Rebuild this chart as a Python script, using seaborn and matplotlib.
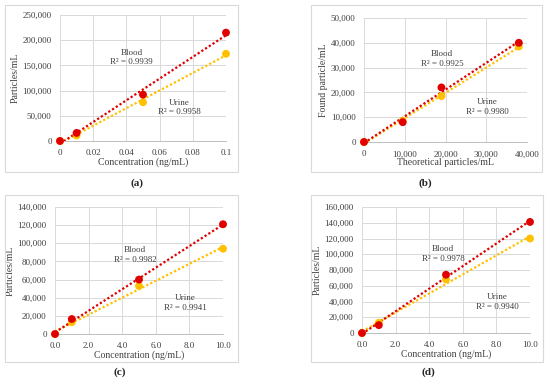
import numpy as np
import matplotlib
matplotlib.use("Agg")
import matplotlib.pyplot as plt
import matplotlib.patches as patches
from matplotlib.ticker import FuncFormatter
import seaborn as sns

sns.set_style("white")
plt.rcParams['font.family'] = ['Liberation Serif', 'DejaVu Serif']

RED = "#E00000"
GOLD = "#FFC000"

# panel (a)
x_a = [0, 0.01, 0.05, 0.1]
blood_a = [0, 16000, 92000, 215000]
urine_a = [0, 11000, 77000, 173000]
# panel (b)
x_b = [0, 9500, 19000, 38000]
blood_b = [0, 8000, 22000, 40000]
urine_b = [0, 8500, 18500, 38500]
# panel (c)
x_c = [0, 1, 5, 10]
blood_c = [0, 16500, 60000, 121000]
urine_c = [0, 13000, 53000, 94000]
# panel (d)
x_d = [0, 1, 5, 10]
blood_d = [0, 10000, 74000, 141000]
urine_d = [0, 13000, 68000, 120000]

r2 = {"a": ("0.9939", "0.9958"), "b": ("0.9925", "0.9980"),
      "c": ("0.9982", "0.9941"), "d": ("0.9978", "0.9940")}

W, H = 550, 385
fig = plt.figure(figsize=(5.5, 3.85), dpi=100)


def px_rect(l, t, r, b):
    return [l / W, (H - b) / H, (r - l) / W, (b - t) / H]


panels = [
    dict(key="a", x=x_a, blood=blood_a, urine=urine_a, ax=px_rect(60, 15, 226, 141),
         box=(5, 5, 238, 172), cap=(137, 183), xlim=(0, 0.1), xstep=0.02, ymax=250000, ystep=50000,
         xfmt=lambda v, p: f"{v:g}", xlabel="Concentration (ng/mL)", ylabel="Particles/mL",
         tb=(0.043, 165000), tu=(0.072, 66000)),
    dict(key="b", x=x_b, blood=blood_b, urine=urine_b, ax=px_rect(364, 18, 527, 142),
         box=(311, 5, 542, 172), cap=(425, 183), xlim=(0, 40000), xstep=10000, ymax=50000, ystep=10000,
         xfmt=lambda v, p: f"{v:,.0f}", xlabel="Theoretical particles/mL", ylabel="Found particle/mL",
         tb=(19100, 33500), tu=(30200, 14100)),
    dict(key="c", x=x_c, blood=blood_c, urine=urine_c, ax=px_rect(55, 207, 223, 334),
         box=(5, 195, 238, 362), cap=(120, 372), xlim=(0, 10), xstep=2, ymax=140000, ystep=20000,
         xfmt=lambda v, p: f"{v:.1f}", xlabel="Concentration (ng/mL)", ylabel="Particles/mL",
         tb=(4.76, 87100), tu=(7.74, 34200)),
    dict(key="d", x=x_d, blood=blood_d, urine=urine_d, ax=px_rect(362, 207, 530, 333),
         box=(311, 195, 543, 362), cap=(428, 372), xlim=(0, 10), xstep=2, ymax=160000, ystep=20000,
         xfmt=lambda v, p: f"{v:.1f}", xlabel="Concentration (ng/mL)", ylabel="Particles/mL",
         tb=(4.82, 100300), tu=(8.04, 39400)),
]

for p in panels:
    l, t, r, b = p["box"]
    fig.patches.append(patches.Rectangle((l / W, (H - b) / H), (r - l) / W, (b - t) / H,
                                         transform=fig.transFigure, fill=False,
                                         edgecolor="#d9d9d9", lw=0.8))
    fig.text(p["cap"][0] / W, 1 - p["cap"][1] / H, f"({p['key']})", ha="center", va="center",
             fontsize=8, fontweight="bold")

    ax = fig.add_axes(p["ax"])
    x = np.array(p["x"], dtype=float)
    for ys, col in [(p["urine"], GOLD), (p["blood"], RED)]:
        sns.regplot(x=x, y=np.array(ys, dtype=float), ax=ax, scatter=False, ci=None,
                    line_kws=dict(color=col, lw=1.6, linestyle=(0, (1, 1))))
    for ys, col in [(p["urine"], GOLD), (p["blood"], RED)]:
        sns.scatterplot(x=x, y=ys, ax=ax, color=col, s=32, edgecolor="none", zorder=5, clip_on=False)

    ax.set_xlim(*p["xlim"])
    ax.set_ylim(0, p["ymax"])
    ax.set_xticks(np.arange(0, p["xlim"][1] + p["xstep"] / 2, p["xstep"]))
    ax.set_yticks(np.arange(0, p["ymax"] + 1, p["ystep"]))
    ax.xaxis.set_major_formatter(FuncFormatter(p["xfmt"]))
    ax.yaxis.set_major_formatter(FuncFormatter(lambda v, pos: f"{v:,.0f}"))
    ax.tick_params(labelsize=6.5, length=0, colors="#404040")
    ax.tick_params(axis="x", pad=6)
    ax.tick_params(axis="y", pad=6)
    ax.grid(True, color="#d9d9d9", lw=0.7)
    ax.set_axisbelow(True)
    for s in ["top", "right", "left"]:
        ax.spines[s].set_visible(False)
    ax.spines["bottom"].set_color("#bfbfbf")
    ax.spines["bottom"].set_linewidth(0.7)
    ax.set_xlabel(p["xlabel"], fontsize=7, labelpad=0, color="#404040")
    ax.set_ylabel(p["ylabel"], fontsize=7, labelpad=2, color="#404040")

    rb, ru = r2[p["key"]]
    ax.text(*p["tb"], f"Blood\nR² = {rb}", ha="center", va="center", fontsize=6.5,
            color="#404040", linespacing=1.2)
    ax.text(*p["tu"], f"Urine\nR² = {ru}", ha="center", va="center", fontsize=6.5,
            color="#404040", linespacing=1.2)

fig.savefig("out.png", dpi=100)
